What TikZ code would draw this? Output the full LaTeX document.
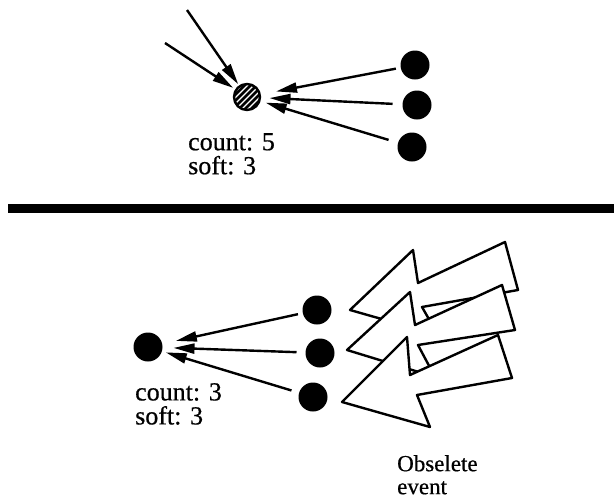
\documentclass[tikz,border=0pt]{standalone}
\usepackage{fontspec}
\setmainfont{Liberation Serif}[FakeBold=0.6]
\usetikzlibrary{arrows.meta}
\begin{document}
\begin{tikzpicture}[x=1pt,y=-1pt,
  dot/.style={circle,fill=black,minimum size=29pt,inner sep=0pt,outer sep=0pt},
  arr/.style={line width=2.4pt,-{Triangle[length=21pt,width=10pt]}},
  big/.style={draw=black,fill=white,line width=2.4pt,line join=round},
  lbl/.style={font=\fontsize{26}{24}\selectfont,align=left,anchor=north west,inner sep=0pt}]
\useasboundingbox (0,0) rectangle (614,501);
% ---- top half ----
\node[circle,minimum size=27pt,inner sep=0pt,outer sep=0pt] (h) at (247,97) {};
\begin{scope}
  \clip (247,97) circle (13);
  \foreach \k in {-20,-14,...,20}
    \draw[line width=2.6pt] (247+\k-20,97+20) -- (247+\k+20,97-20);
\end{scope}
\draw[line width=2.4pt] (247,97) circle (13);
\node[dot] (r1) at (415,65) {};
\node[dot] (r2) at (417,105) {};
\node[dot] (r3) at (412,147) {};
\coordinate (in1) at (187,10);
\coordinate (in2) at (165,43);
\draw[arr,shorten <=5pt,shorten >=16pt] (r1) -- (h);
\draw[arr,shorten <=10pt,shorten >=9pt] (r2) -- (h);
\draw[arr,shorten <=10pt,shorten >=6pt] (r3) -- (h);
\draw[arr,shorten >=2pt] (in1) -- (h);
\draw[arr,shorten >=3pt] (in2) -- (h);
\node[lbl] (t1) at (188,133) {count: 5\\soft: 3};
% ---- divider ----
\coordinate (dl) at (8,208);
\coordinate (dr) at (614,208);
\draw[line width=9pt] (dl) -- (dr);
% ---- bottom half ----
\node[dot] (L) at (148,347) {};
\node[dot] (m1) at (317,310) {};
\node[dot] (m2) at (320,353) {};
\node[dot] (m3) at (313,397) {};
\draw[arr,shorten <=5pt,shorten >=14pt] (m1) -- (L);
\draw[arr,shorten <=9pt,shorten >=11pt] (m2) -- (L);
\draw[arr,shorten <=8pt,shorten >=4pt] (m3) -- (L);
\node[lbl] (t2) at (135,383) {count: 3\\soft: 3};
% big hollow arrows
\draw[big] (350,310) -- (413,250) -- (418,283) -- (505,242) -- (518,290) -- (422,307) -- (438,335) -- cycle;
\draw[big] (347,350) -- (410,292) -- (415,325) -- (502,285) -- (515,330) -- (418,345) -- (435,377) -- cycle;
\draw[big] (342,402) -- (407,337) -- (410,375) -- (498,335) -- (512,378) -- (417,395) -- (430,427) -- cycle;
\node[lbl,font=\fontsize{23}{23}\selectfont] (ob) at (397,455) {Obselete\\event};
\end{tikzpicture}
\end{document}
